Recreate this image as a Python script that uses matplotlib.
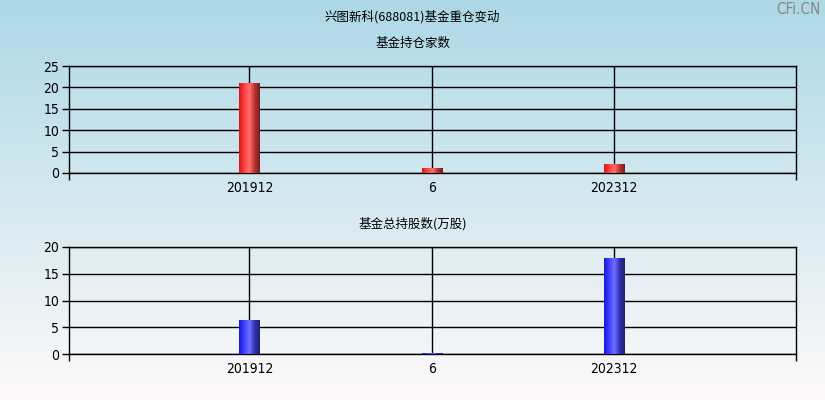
import matplotlib
matplotlib.use("Agg")
import matplotlib.pyplot as plt
import numpy as np
from matplotlib.colors import LinearSegmentedColormap

plt.rcParams['font.family'] = ['Liberation Sans Narrow', 'DejaVu Sans']

# data
categories = ['201912', '6', '202312']
fund_count = [21, 1, 2]
fund_shares = [6.2, 0.15, 17.8]

title = '兴图新科(688081)基金重仓变动'
sub1 = '基金持仓家数'
sub2 = '基金总持股数(万股)'

red_cm = LinearSegmentedColormap.from_list('r', ['#d81818', '#ff4040', '#ff7070', '#c03030', '#702020'])
blue_cm = LinearSegmentedColormap.from_list('b', ['#1818d8', '#4040ff', '#7070ff', '#3030b0', '#202070'])

fig = plt.figure(figsize=(8.25, 4), dpi=100)

# background gradient
bg = fig.add_axes([0, 0, 1, 1], zorder=-10)
top = np.array([173, 216, 230]) / 255
bot = np.array([254, 250, 250]) / 255
t = np.linspace(0, 1, 200)[:, None]
grad = top * (1 - t) + bot * t
bg.imshow(grad[:, None, :], aspect='auto', extent=[0, 1, 0, 1])
bg.axis('off')

fig.text(0.5, 1 - 17 / 400, title, ha='center', va='center', fontsize=9,
         family=['Noto Sans CJK SC', 'DejaVu Sans'])
fig.text(0.995, 1 - 10 / 400, 'CFi.CN', ha='right', va='center', fontsize=11, color='#888888',
         family=['DejaVu Sans'], stretch='condensed')

tick_font = dict(family='DejaVu Sans', stretch='condensed', size=10)


def draw(rect, vals, ymax, step, cmap, sub, sub_y):
    ax = fig.add_axes(rect)
    ax.set_facecolor('none')
    x = np.arange(len(categories))
    bars = ax.bar(x, vals, width=0.11, color='none', zorder=3)
    g = np.linspace(0, 1, 64)[None, :]
    for b in bars:
        ax.imshow(g, cmap=cmap, aspect='auto', zorder=3,
                  extent=[b.get_x(), b.get_x() + b.get_width(), 0, b.get_height()])
    ax.set_xlim(-0.99, 3.0)
    ax.set_ylim(0, ymax)
    ax.set_xticks(x)
    ax.set_xticklabels(categories, fontdict=tick_font)
    ax.set_xticks([-0.99, 3.0], minor=True)
    ax.tick_params(axis='x', which='major', length=0, pad=6)
    ax.tick_params(axis='x', which='minor', length=5, direction='out', width=1)
    yt = np.arange(0, ymax + 1, step)
    ax.set_yticks(yt)
    ax.set_yticklabels([str(v) for v in yt], fontdict=tick_font)
    ax.tick_params(axis='y', length=5, width=1, pad=2)
    ax.grid(True, color='black', linewidth=1)
    ax.set_axisbelow(True)
    for s in ax.spines.values():
        s.set_linewidth(1)
    fig.text(0.5, 1 - sub_y / 400, sub, ha='center', va='center', fontsize=9,
             family=['Noto Sans CJK SC', 'DejaVu Sans'])
    return ax


draw([69 / 825, 1 - 173 / 400, 727 / 825, 107 / 400], fund_count, 25, 5, red_cm, sub1, 43)
draw([69 / 825, 1 - 354 / 400, 727 / 825, 107 / 400], fund_shares, 20, 5, blue_cm, sub2, 224)

fig.savefig('out.png', dpi=100)
